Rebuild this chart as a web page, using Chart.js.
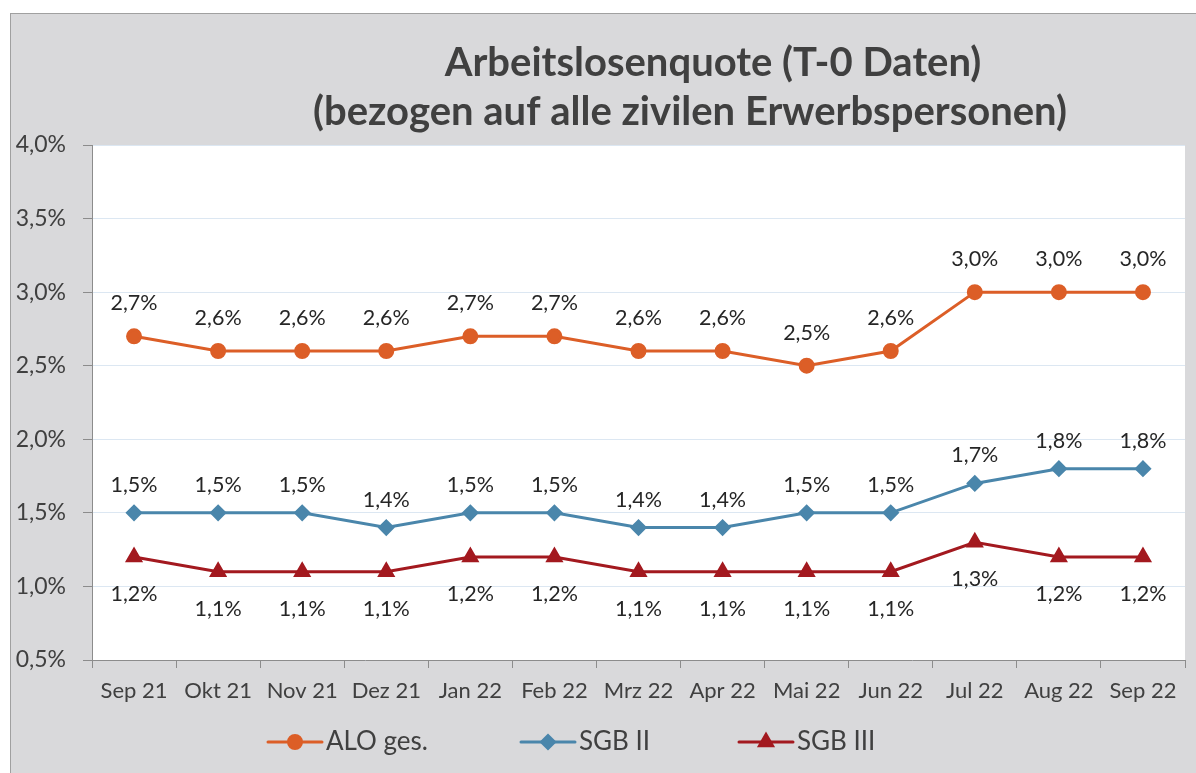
<!DOCTYPE html>
<html>
<head>
<meta charset="utf-8">
<script src="https://cdn.jsdelivr.net/npm/chart.js@4/dist/chart.umd.min.js"></script>
<style>
  html, body { margin: 0; padding: 0; background: #fff; }
  canvas { display: block; }
</style>
</head>
<body>
<canvas id="quoteChart" width="1196" height="773"></canvas>
<script>
const months = ["Sep 21", "Okt 21", "Nov 21", "Dez 21", "Jan 22", "Feb 22", "Mrz 22",
  "Apr 22", "Mai 22", "Jun 22", "Jul 22", "Aug 22", "Sep 22"];
const aloGes = [2.7, 2.6, 2.6, 2.6, 2.7, 2.7, 2.6, 2.6, 2.5, 2.6, 3.0, 3.0, 3.0];
const sgb2 = [1.5, 1.5, 1.5, 1.4, 1.5, 1.5, 1.4, 1.4, 1.5, 1.5, 1.7, 1.8, 1.8];
const sgb3 = [1.2, 1.1, 1.1, 1.1, 1.2, 1.2, 1.1, 1.1, 1.1, 1.1, 1.3, 1.2, 1.2];
const titleLines = ["Arbeitslosenquote (T-0 Daten)", "(bezogen auf alle zivilen Erwerbspersonen)"];

const FONT = "Lato, 'Open Sans', sans-serif";
const pct = (v) => v.toFixed(1).replace(".", ",") + "%";

// gray frame, white plot area and the two title lines
const framePlugin = {
  id: "frame",
  beforeDraw(chart) {
    const { ctx, chartArea: a } = chart;
    ctx.save();
    ctx.fillStyle = "#fff";
    ctx.fillRect(0, 0, chart.width, chart.height);
    ctx.fillStyle = "#d9d9db";
    ctx.fillRect(10, 13, chart.width - 10, chart.height - 13);
    ctx.strokeStyle = "#a0a0a0";
    ctx.lineWidth = 1;
    ctx.strokeRect(10.5, 13.5, chart.width, chart.height);
    ctx.fillStyle = "#fff";
    ctx.fillRect(a.left, a.top, a.right - a.left, a.bottom - a.top);

    ctx.fillStyle = "#404040";
    ctx.font = "bold 40px " + FONT;
    ctx.textAlign = "center";
    ctx.textBaseline = "middle";
    ctx.fillText(titleLines[0], 713, 63);
    ctx.fillText(titleLines[1], 690, 112);
    ctx.restore();
  },
};

// value labels: above for ALO / SGB II, below for SGB III
const labelOffsets = [-33, -28, 37];
const valueLabels = {
  id: "valueLabels",
  afterDatasetsDraw(chart) {
    const { ctx } = chart;
    ctx.save();
    ctx.font = "21.5px " + FONT;
    ctx.fillStyle = "#262626";
    ctx.textAlign = "center";
    ctx.textBaseline = "middle";
    chart.data.datasets.forEach((ds, i) => {
      chart.getDatasetMeta(i).data.forEach((pt, j) => {
        ctx.fillText(pct(ds.data[j]), pt.x, pt.y + labelOffsets[i]);
      });
    });
    ctx.restore();
  },
};

// legend with line through marker, like the office chart
const legendX = [268, 521, 739];
const lineLegend = {
  id: "lineLegend",
  afterDraw(chart) {
    const { ctx } = chart;
    const y = 742;
    ctx.save();
    ctx.font = "26px " + FONT;
    ctx.textBaseline = "middle";
    ctx.textAlign = "left";
    chart.data.datasets.forEach((ds, i) => {
      const x = legendX[i];
      ctx.strokeStyle = ds.borderColor;
      ctx.lineWidth = 3;
      ctx.lineCap = "round";
      ctx.beginPath();
      ctx.moveTo(x, y);
      ctx.lineTo(x + 54, y);
      ctx.stroke();
      Chart.helpers.drawPoint(ctx, {
        pointStyle: ds.pointStyle,
        radius: ds.pointRadius,
        borderWidth: 1,
        rotation: 0,
      }, x + 27, y);
      ctx.fillStyle = ds.pointBackgroundColor;
      ctx.fill();
      ctx.fillStyle = "#404040";
      ctx.fillText(ds.label, x + 58, y);
    });
    ctx.restore();
  },
};

function series(label, data, color, style, radius) {
  return {
    label: label,
    data: data,
    borderColor: color,
    backgroundColor: color,
    pointBackgroundColor: color,
    pointBorderColor: color,
    pointStyle: style,
    pointRadius: radius,
    borderWidth: 3,
    tension: 0,
  };
}

const ctx = document.getElementById("quoteChart").getContext("2d");
new Chart(ctx, {
  type: "line",
  data: {
    labels: months,
    datasets: [
      series("ALO ges.", aloGes, "#dc5e27", "circle", 6.5),
      series("SGB II", sgb2, "#4a86ab", "rectRot", 6.5),
      series("SGB III", sgb3, "#a3191f", "triangle", 7.5),
    ],
  },
  options: {
    responsive: false,
    animation: false,
    layout: { padding: { left: 0, top: 145, right: 11, bottom: 0 } },
    plugins: {
      legend: { display: false },
      title: { display: false },
      tooltip: { enabled: false },
    },
    scales: {
      x: {
        offset: true,
        afterFit: (scale) => { scale.height = 113; },
        grid: {
          offset: true,
          drawOnChartArea: false,
          drawTicks: true,
          tickLength: 8,
          tickColor: "#8c8c8c",
        },
        border: { color: "#8c8c8c", width: 1 },
        ticks: {
          color: "#404040",
          font: { family: FONT, size: 22 },
          padding: 10,
          maxRotation: 0,
          autoSkip: false,
        },
      },
      y: {
        min: 0.5,
        max: 4.0,
        afterFit: (scale) => { scale.width = 92; },
        grid: {
          color: "#dce7f2",
          tickColor: "#8c8c8c",
          tickLength: 9,
        },
        border: { color: "#8c8c8c", width: 1 },
        ticks: {
          stepSize: 0.5,
          color: "#404040",
          font: { family: FONT, size: 23 },
          padding: 17,
          callback: (v) => pct(v),
        },
      },
    },
  },
  plugins: [framePlugin, valueLabels, lineLegend],
});
</script>
</body>
</html>
